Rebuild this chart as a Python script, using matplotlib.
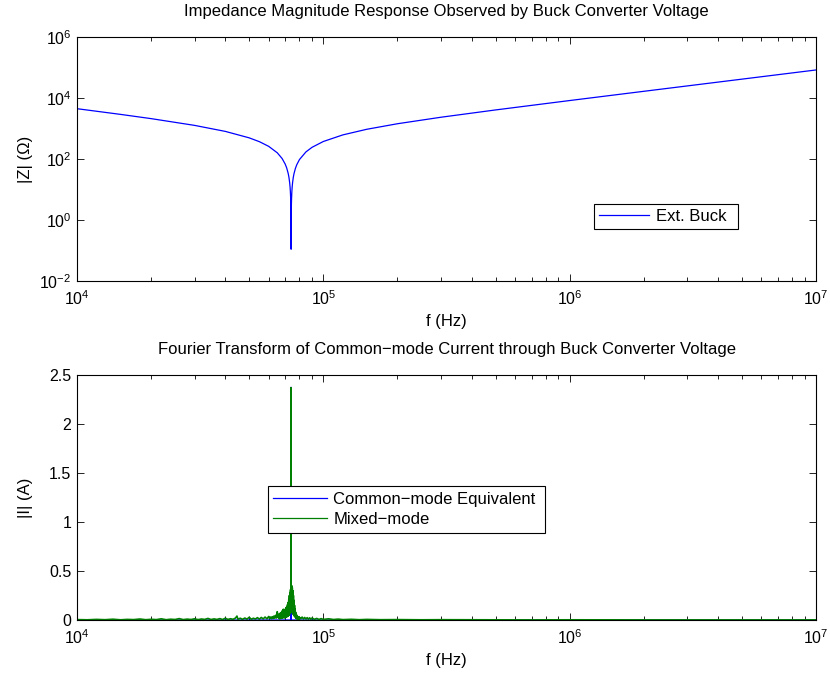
import matplotlib
matplotlib.use("Agg")
import matplotlib.pyplot as plt
from matplotlib.ticker import LogLocator, FixedLocator, NullLocator

plt.rcParams['font.family'] = ['Liberation Sans', 'DejaVu Sans']
plt.rcParams['mathtext.fontset'] = 'custom'
plt.rcParams['mathtext.rm'] = 'Liberation Sans'
plt.rcParams['mathtext.it'] = 'Liberation Sans:italic'

# ---- Impedance magnitude of the external buck path ----
z_freq_hz = [1e4, 1.5e4, 2e4, 3e4, 4e4, 5e4, 5.5e4, 6e4, 6.5e4, 6.8e4, 7e4, 7.1e4,
             7.2e4, 7.25e4, 7.3e4, 7.33e4, 7.35e4, 7.37e4, 7.38e4, 7.39e4, 7.395e4,
             7.4e4, 7.405e4, 7.41e4, 7.42e4, 7.43e4, 7.45e4, 7.47e4, 7.5e4, 7.55e4,
             7.6e4, 7.7e4, 7.8e4, 8e4, 8.5e4, 9e4, 1e5, 1.2e5, 1.5e5, 2e5, 3e5, 5e5,
             1e6, 2e6, 5e6, 1e7]
z_mag_ohm = [4462, 2906, 2107, 1266, 804, 494, 370, 260, 160, 104, 68.3, 50.9,
             33.7, 25.2, 16.7, 11.7, 8.33, 4.99, 3.33, 1.66, 0.83,
             0.11, 0.83, 1.66, 3.31, 4.97, 8.27, 11.6, 16.5, 24.7,
             32.8, 48.8, 64.7, 95.9, 171, 242, 375, 617, 942, 1433, 2338, 4059,
             8255, 16577, 41477, 82995]

# ---- Spectrum of the common-mode current (mixed-mode simulation) ----
mm_freq_khz = [
    # low-frequency floor
    10, 11, 12, 13, 14, 15, 16, 17, 18, 19,
    20, 21, 22, 23, 24, 25, 26, 27, 28, 29,
    30, 31, 32, 33, 34, 35, 36, 37, 38, 39,
    40, 41, 42, 43, 44, 44.6, 45, 46, 47, 48,
    49, 50, 51, 52, 53, 54, 55, 56, 57, 58,
    59, 60, 60.5, 61, 61.5, 62, 62.5, 63, 63.5, 64,
    64.5, 65, 65.5,
    # resonance cluster
    66.0, 66.2, 66.4, 66.6, 66.8, 67.0, 67.2, 67.4, 67.6, 67.8,
    68.0, 68.2, 68.4, 68.6, 68.8, 69.0, 69.2, 69.4, 69.6, 69.8,
    70.0, 70.2, 70.4, 70.6, 70.8, 71.0, 71.2, 71.4, 71.6, 71.8,
    72.0, 72.2, 72.4, 72.6, 72.8, 73.0, 73.2, 73.4, 73.6, 73.8,
    73.9, 74.0, 74.2, 74.4, 74.6, 74.8, 75.0, 75.2, 75.4, 75.6,
    75.8, 76.0, 76.2, 76.4, 76.6, 76.8, 77.0, 77.2, 77.4, 77.6,
    77.8, 78.0, 78.2, 78.4, 78.6, 78.8, 79.0, 79.2, 79.4, 79.6,
    79.8, 80.0,
    # high-frequency floor
    81, 82, 83, 84, 85, 86, 87, 88, 89, 90,
    92, 94, 96, 98, 100, 105, 110, 115, 120, 130,
    140, 150, 170, 200, 250, 300, 400, 500, 700, 1000,
    2000, 5000, 10000]
mm_amp = [
    0.004, 0.002, 0.006, 0.003, 0.008, 0.002, 0.006, 0.004, 0.010, 0.003,
    0.007, 0.004, 0.012, 0.003, 0.008, 0.005, 0.014, 0.004, 0.009, 0.005,
    0.012, 0.004, 0.010, 0.006, 0.016, 0.005, 0.011, 0.006, 0.014, 0.005,
    0.018, 0.006, 0.013, 0.007, 0.020, 0.040, 0.008, 0.018, 0.007, 0.020,
    0.009, 0.028, 0.008, 0.018, 0.010, 0.024, 0.009, 0.026, 0.011, 0.030,
    0.012, 0.036, 0.014, 0.030, 0.013, 0.034, 0.015, 0.040, 0.018, 0.048,
    0.020, 0.085, 0.025,
    0.060, 0.015, 0.050, 0.012, 0.070, 0.018, 0.060, 0.015, 0.080, 0.020,
    0.090, 0.022, 0.100, 0.025, 0.110, 0.025, 0.090, 0.022, 0.100, 0.025,
    0.110, 0.028, 0.120, 0.030, 0.130, 0.032, 0.140, 0.035, 0.160, 0.040,
    0.180, 0.045, 0.210, 0.050, 0.250, 0.060, 0.280, 0.070, 0.310, 0.080,
    2.370, 0.340, 0.080, 0.350, 0.080, 0.330, 0.070, 0.300, 0.060, 0.250,
    0.050, 0.200, 0.040, 0.150, 0.035, 0.110, 0.028, 0.080, 0.020, 0.060,
    0.015, 0.050, 0.012, 0.040, 0.010, 0.035, 0.008, 0.030, 0.007, 0.030,
    0.007, 0.028,
    0.012, 0.030, 0.010, 0.026, 0.010, 0.024, 0.008, 0.022, 0.008, 0.020,
    0.007, 0.016, 0.006, 0.014, 0.006, 0.012, 0.005, 0.009, 0.004, 0.007,
    0.003, 0.006, 0.003, 0.004, 0.002, 0.003, 0.002, 0.002, 0.001, 0.002,
    0.001, 0.001, 0.001]
assert len(mm_freq_khz) == len(mm_amp)

# common-mode equivalent model spectrum
cm_freq_khz = [10, 73.7, 73.85, 73.9, 73.95, 74.1, 10000]
cm_amp = [0.0, 0.0, 0.02, 2.375, 0.02, 0.0, 0.0]

BLUE = (0, 0, 1)
GREEN = (0, 0.5, 0)
FS = 12
TFS = 11.5

fig = plt.figure(figsize=(8.3, 6.73), dpi=100)
ax1 = fig.add_axes([77 / 830, 1 - 281 / 673, 739 / 830, 244 / 673])
ax2 = fig.add_axes([77 / 830, 1 - 620 / 673, 739 / 830, 245 / 673])


def style(ax):
    ax.tick_params(which='both', direction='in', top=True, right=True,
                   labelsize=TFS, width=0.6)
    ax.tick_params(which='major', length=5)
    ax.tick_params(which='minor', length=3)
    ax.tick_params(axis='x', which='both', pad=6)
    ax.tick_params(axis='y', which='both', pad=4)
    for s in ax.spines.values():
        s.set_linewidth(0.8)
    ax.yaxis.set_label_coords(-0.06, 0.5)


# top panel
ax1.loglog(z_freq_hz, z_mag_ohm, color=BLUE, lw=0.9, label='Ext. Buck')
ax1.set_xlim(1e4, 1e7)
ax1.set_ylim(1e-2, 1e6)
ax1.yaxis.set_major_locator(FixedLocator([1e-2, 1e0, 1e2, 1e4, 1e6]))
ax1.yaxis.set_minor_locator(NullLocator())
ax1.xaxis.set_major_locator(LogLocator(base=10))
ax1.xaxis.set_minor_locator(LogLocator(base=10, subs=range(2, 10)))
ax1.set_title('Impedance Magnitude Response Observed by Buck Converter Voltage',
              fontsize=FS, pad=15)
ax1.set_xlabel('f (Hz)', fontsize=FS, labelpad=4)
ax1.set_ylabel('|Z| (\u03a9)', fontsize=FS)
style(ax1)
leg1 = ax1.legend(loc='lower left', bbox_to_anchor=(0.70, 0.213, 0.195, 0.119),
                  mode='expand', borderaxespad=0, fancybox=False,
                  edgecolor='black', framealpha=1, fontsize=FS,
                  handlelength=3.0, borderpad=0.3, handletextpad=0.4)
leg1.get_frame().set_linewidth(0.8)

# bottom panel
cm_hz = [v * 1e3 for v in cm_freq_khz]
mm_hz = [v * 1e3 for v in mm_freq_khz]
ax2.semilogx(cm_hz, cm_amp, color=BLUE, lw=0.9, label='Common\u2212mode Equivalent')
ax2.semilogx(mm_hz, mm_amp, color=GREEN, lw=1.2, label='Mixed\u2212mode')
ax2.set_xlim(1e4, 1e7)
ax2.set_ylim(0, 2.5)
ax2.yaxis.set_major_locator(FixedLocator([0, 0.5, 1, 1.5, 2, 2.5]))
ax2.set_yticklabels(['0', '0.5', '1', '1.5', '2', '2.5'])
ax2.xaxis.set_major_locator(LogLocator(base=10))
ax2.xaxis.set_minor_locator(LogLocator(base=10, subs=range(2, 10)))
ax2.set_title('Fourier Transform of Common\u2212mode Current through Buck Converter Voltage',
              fontsize=FS, pad=15)
ax2.set_xlabel('f (Hz)', fontsize=FS, labelpad=4)
ax2.set_ylabel('|I| (A)', fontsize=FS)
style(ax2)
leg2 = ax2.legend(loc='lower left', bbox_to_anchor=(0.258, 0.355, 0.375, 0.208),
                  mode='expand', borderaxespad=0, fancybox=False,
                  edgecolor='black', framealpha=1, fontsize=FS,
                  handlelength=3.2, borderpad=0.35, labelspacing=0.3,
                  handletextpad=0.4)
leg2.get_frame().set_linewidth(0.8)
for h in leg2.get_lines():
    h.set_linewidth(0.9)

fig.savefig('out.png', dpi=100)
